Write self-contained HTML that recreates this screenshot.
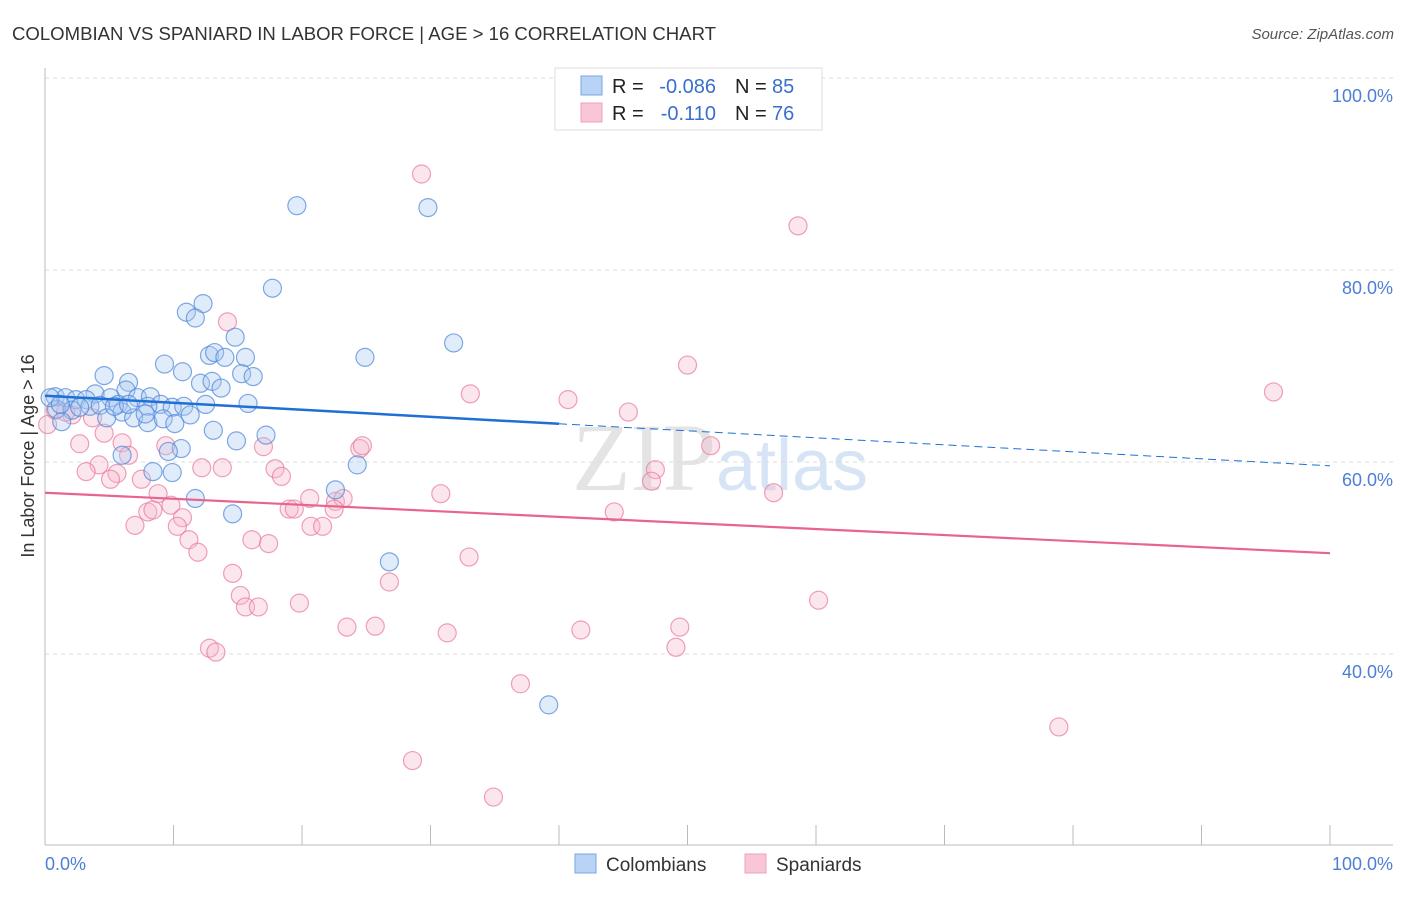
<!DOCTYPE html>
<html><head><meta charset="utf-8"><style>
body{margin:0;background:#fff;font-family:"Liberation Sans",sans-serif}
</style></head><body>
<svg width="1406" height="892" xmlns="http://www.w3.org/2000/svg">
<text x="12" y="40" font-size="18" fill="#333" textLength="704" lengthAdjust="spacingAndGlyphs">COLOMBIAN VS SPANIARD IN LABOR FORCE | AGE &gt; 16 CORRELATION CHART</text>
<text x="1394" y="39" font-size="15" fill="#555" text-anchor="end" font-style="italic">Source: ZipAtlas.com</text>
<text x="720" y="490" font-size="96" fill="#e4e4e4" text-anchor="middle" font-family="Liberation Serif">ZIP<tspan fill="#d6e4f5" font-family="Liberation Sans" font-size="72">atlas</tspan></text>
<g id="grid"></g>
<g id="axes"></g>
<g id="pts"></g>
<g id="trend"></g>
<text transform="translate(34,456) rotate(-90)" font-size="18" fill="#333" text-anchor="middle">In Labor Force | Age &gt; 16</text>
<text x="45" y="870" font-size="18" fill="#4a7fd4">0.0%</text>
<text x="1393" y="870" font-size="18" fill="#4a7fd4" text-anchor="end">100.0%</text>
<g>
<rect x="555" y="68" width="267" height="62" fill="#fff" stroke="#ddd"/>
<rect x="581" y="76" width="21" height="19" fill="#b8d3f5" stroke="#7aa6e0"/>
<rect x="581" y="103" width="21" height="19" fill="#f9c6d6" stroke="#eea0b8"/>
<text x="612" y="93" font-size="20" fill="#222">R =</text>
<text x="716" y="93" font-size="20" fill="#3a6fcc" text-anchor="end">-0.086</text>
<text x="735" y="93" font-size="20" fill="#222">N =</text>
<text x="772" y="93" font-size="20" fill="#3a6fcc">85</text>
<text x="612" y="120" font-size="20" fill="#222">R =</text>
<text x="716" y="120" font-size="20" fill="#3a6fcc" text-anchor="end">-0.110</text>
<text x="735" y="120" font-size="20" fill="#222">N =</text>
<text x="772" y="120" font-size="20" fill="#3a6fcc">76</text>
</g>
<g>
<rect x="575" y="854" width="21" height="19" fill="#b8d3f5" stroke="#7aa6e0"/>
<text x="606" y="871" font-size="19" fill="#333">Colombians</text>
<rect x="745" y="854" width="21" height="19" fill="#f9c6d6" stroke="#eea0b8"/>
<text x="776" y="871" font-size="19" fill="#333">Spaniards</text>
</g>
</svg>
<script>
const blueX=[19.6,29.8,17.7,11.0,12.3,11.7,14.8,31.8,9.3,12.8,13.2,14.0,15.6,24.9,10.7,4.6,15.3,16.2,12.1,13.0,13.7,6.5,6.3,3.9,0.8,1.6,2.4,3.2,5.1,5.7,7.2,8.2,9.0,9.9,10.8,12.5,15.8,0.9,2.1,3.5,4.3,8.0,1.3,4.8,6.0,6.9,8.0,9.2,10.1,11.3,13.1,14.9,17.2,10.6,9.6,6.0,24.3,8.4,9.9,11.7,22.6,14.6,26.8,39.2,0.4,1.2,2.7,5.4,7.8,6.5];
const blueY=[86.7,86.5,78.1,75.6,76.5,75.0,73.0,72.4,70.2,71.1,71.4,70.9,70.9,70.9,69.4,69.0,69.2,68.9,68.2,68.4,67.7,68.3,67.5,67.1,66.8,66.7,66.5,66.5,66.7,66.0,66.7,66.8,66.0,65.7,65.8,66.0,66.1,65.5,65.4,65.8,65.9,65.8,64.2,64.6,65.2,64.6,64.1,64.5,64.0,64.9,63.3,62.2,62.8,61.4,61.1,60.7,59.7,59.0,58.9,56.2,57.1,54.6,49.6,34.7,66.7,66.0,65.7,65.8,65.0,66.0];
const pinkX=[29.3,58.6,14.2,50.0,95.6,33.1,40.7,45.4,51.8,24.5,24.7,17.0,3.7,2.1,0.2,4.6,2.7,6.0,9.4,6.5,4.2,3.2,5.6,5.1,7.5,12.2,13.8,17.9,18.4,47.5,47.2,30.8,56.7,8.8,9.8,8.0,10.7,8.4,19.0,19.4,20.6,22.6,23.2,22.5,44.3,7.0,10.3,20.7,21.6,11.2,16.1,17.4,11.9,33.0,14.6,26.8,15.2,15.6,16.6,19.8,60.2,23.5,25.7,31.3,41.7,49.4,49.1,12.8,13.3,37.0,78.9,28.6,34.9,0.8,1.6];
const pinkY=[90.0,84.6,74.6,70.1,67.3,67.1,66.5,65.2,61.7,61.4,61.7,61.6,64.6,64.9,63.9,63.0,61.9,62.0,61.7,60.7,59.7,59.0,58.8,58.2,58.2,59.4,59.4,59.3,58.5,59.2,58.0,56.7,56.8,56.7,55.5,54.8,54.2,55.0,55.1,55.1,56.2,55.9,56.2,55.1,54.8,53.4,53.3,53.3,53.3,51.9,51.9,51.5,50.6,50.1,48.4,47.5,46.1,44.9,44.9,45.3,45.6,42.8,42.9,42.2,42.5,42.8,40.7,40.6,40.2,36.9,32.4,28.9,25.1,65.4,65.2];
const yTicks=[100,80,60,40];
const yTickLabels=["100.0%","80.0%","60.0%","40.0%"];
const blueTrend=[66.9,59.6];
const pinkTrend=[56.8,50.5];
const NS="http://www.w3.org/2000/svg";
const sx=v=>45+v*12.85, sy=v=>78+(100-v)*9.6;
function mk(tag,attrs,parent){const e=document.createElementNS(NS,tag);for(const k in attrs)e.setAttribute(k,attrs[k]);document.getElementById(parent).appendChild(e);return e;}
yTicks.forEach((t,i)=>{
 const l=mk('line',{x1:45,x2:1393,y1:sy(t),y2:sy(t),stroke:'#ddd','stroke-dasharray':'4,4'},'grid');
 
 
 const tx=mk('text',{x:1393,y:sy(t)+24,'font-size':18,fill:'#4a7fd4','text-anchor':'end'},'grid');
 tx.textContent=yTickLabels[i];
 
 
});
let a=mk('line',{x1:45,x2:45,y1:68,y2:845,stroke:'#bbb'},'axes');


a=mk('line',{x1:45,x2:1393,y1:845,y2:845,stroke:'#bbb'},'axes');


for(let i=0;i<=10;i++){const t=mk('line',{x1:sx(i*10),x2:sx(i*10),y1:825,y2:845,stroke:'#bbb'},'axes');
 
 }
function dots(X,Y,fill,stroke,name){X.forEach((x,i)=>{const c=mk('circle',{cx:sx(x),cy:sy(Y[i]),r:9,fill:fill,'fill-opacity':0.35,stroke:stroke,'stroke-opacity':0.7,'stroke-width':1.2},'pts');
 
 });}
dots(pinkX,pinkY,'#f7b8cb','#e8789c','spaniard-point');
dots(blueX,blueY,'#a9c9f2','#4a84d8','colombian-point');
const by=x=>blueTrend[0]+(blueTrend[1]-blueTrend[0])*x/100;
let t=mk('line',{x1:sx(0),y1:sy(by(0)),x2:sx(40),y2:sy(by(40)),stroke:'#1f6fd6','stroke-width':2.5},'trend');


t=mk('line',{x1:sx(40),y1:sy(by(40)),x2:sx(100),y2:sy(by(100)),stroke:'#1f6fd6','stroke-width':1,'stroke-dasharray':'8,5'},'trend');


t=mk('line',{x1:sx(0),y1:sy(pinkTrend[0]),x2:sx(100),y2:sy(pinkTrend[1]),stroke:'#e8648f','stroke-width':2.2},'trend');


</script>
</body></html>
